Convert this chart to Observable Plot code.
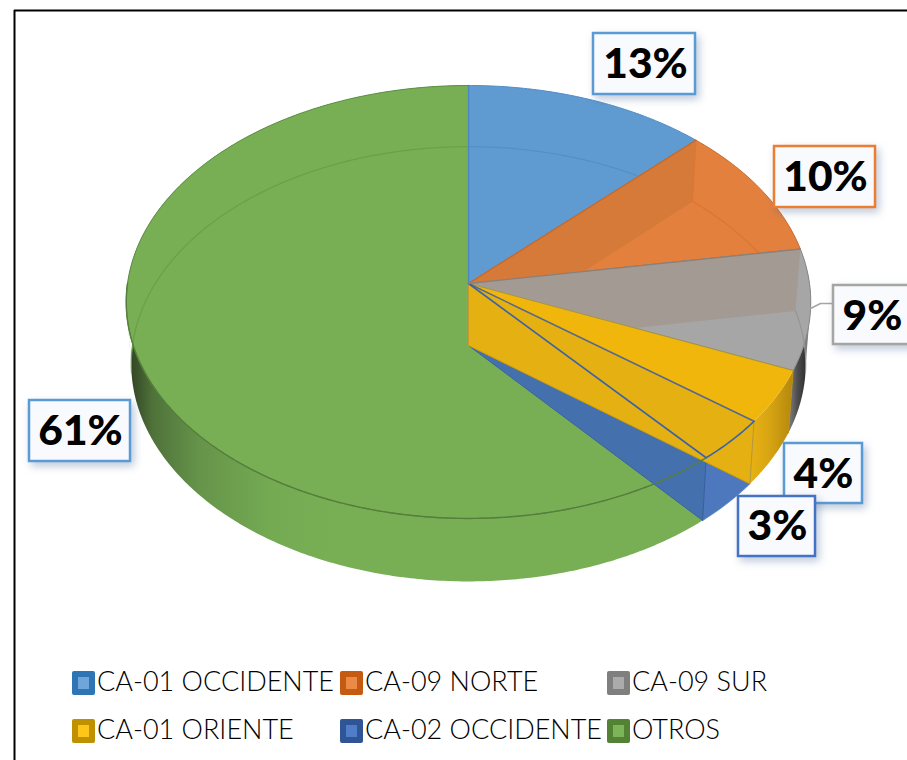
<!DOCTYPE html>
<html>
<head>
<meta charset="utf-8">
<script src="https://cdn.jsdelivr.net/npm/d3@7"></script>
<script src="https://cdn.jsdelivr.net/npm/@observablehq/plot@0.6"></script>
<style>
html,body{margin:0;padding:0;background:#fff;overflow:hidden}
svg{display:block}
</style>
</head>
<body>
<div id="chart"></div>
<script>
// ---- data ----
const categories = ["CA-01 OCCIDENTE","CA-09 NORTE","CA-09 SUR","CA-01 ORIENTE","CA-02 OCCIDENTE","OTROS"];
const shares = [12.5, 9.9, 9.0, 4.0, 3.3, 61.3];
const shownLabels = ["13%","10%","9%","4%","3%","61%"];

// ---- styles and layout ----
const swatchOuter = ["#2e75b6","#c55a11","#7f7f7f","#bf9000","#2f5597","#548235"];
const swatchInner = ["#6fa5d8","#ea8a46","#ababab","#ffc61a","#4f7dca","#7cb45a"];
const boxStroke = ["#5b9bd5","#ed7d31","#a5a5a5","#5b9bd5","#4472c4","#5b9bd5"];
const boxes = [[593,33,695,94],[774,146,875,207],[833,285,925,344],[784,443,862,503],[738,496,815,556],[29,400,130,461]];
const boxText = [[645,64],[825,177],[872,316],[823,474],[777,526],[80,431]];
const legendCols = [72,340,607], legendRows = [683,731];

// ---- perspective pie projection ----
const view = {cx:468, apexTop:283, apexBot:345, xTop:341, xBot:336, yrTop:214.9, yrBot:215.8, p:0.0853};
const rad = pct => pct * 3.6 * Math.PI / 180;
function pt(t, level){
  const d = 1 + view.p*Math.cos(t), k = Math.sin(t)/d, v = Math.cos(t)/d;
  return level === "top"
    ? [view.cx + view.xTop*k, view.apexTop - view.yrTop*v]
    : [view.cx + view.xBot*k, view.apexBot - view.yrBot*v];
}
function arc(a, b, level){
  const n = Math.max(2, Math.ceil(Math.abs(b-a)/0.01));
  return d3.range(n+1).map(i => pt(a + (b-a)*i/n, level));
}
const cum = d3.cumsum(shares);
const edge = [0, ...Array.from(cum, rad)];
edge[6] = 2*Math.PI;
const A = [view.cx, view.apexTop];
const B = [view.cx, view.apexBot];
function cross(p1,p2,p3,p4){
  const d=(p1[0]-p2[0])*(p3[1]-p4[1])-(p1[1]-p2[1])*(p3[0]-p4[0]);
  const u=((p1[0]-p3[0])*(p3[1]-p4[1])-(p1[1]-p3[1])*(p3[0]-p4[0]))/d;
  return [p1[0]+u*(p2[0]-p1[0]), p1[1]+u*(p2[1]-p1[1])];
}
// polygon or polyline as a Plot line mark
const poly = (pts, o={}) => Plot.line(o.open ? pts : [...pts, pts[0]], {
  x:d=>d[0], y:d=>d[1], curve:"linear",
  fill:o.fill||"none", fillOpacity:o.fo===undefined?1:o.fo,
  stroke:o.stroke||"none", strokeWidth:o.sw||1, strokeOpacity:o.so===undefined?1:o.so
});
const wallBand = (a,b,fill) => poly([...arc(a,b,"top"), ...arc(b,a,"bot")], {fill});
const slice = (a,b,fill,stroke) => poly([A, ...arc(a,b,"top")], {fill, stroke});
const wedgeWall = (t,tNext,fill) => {
  const rt = pt(t,"top"), rb = pt(t,"bot");
  return poly([A, rt, rb, cross(rb,B,A,pt(tNext,"top"))], {fill});
};
const innerFloorArc = (a,b,stroke,so) => {
  const lim = pt(b,"top"), ang = Math.atan2(lim[0]-A[0], A[1]-lim[1]);
  const pts = arc(a,b,"bot").filter(q => Math.atan2(q[0]-A[0], A[1]-q[1]) <= ang);
  return poly(pts,{open:true, stroke, so, sw:1.2});
};
const extreme = (level, pick) => {
  const pts = arc(0,2*Math.PI,level);
  return pts[d3[pick](pts, q=>q[0])];
};

const defs = () => {
  const d = d3.create("svg:defs");
  const grad = (id,x1,x2,stops) => {
    const g = d.append("linearGradient").attr("id",id).attr("gradientUnits","userSpaceOnUse")
      .attr("x1",x1).attr("x2",x2).attr("y1",0).attr("y2",0);
    stops.forEach(([o,c]) => g.append("stop").attr("offset",o).attr("stop-color",c));
  };
  grad("gGreen",128,330,[[0,"#2f4223"],[0.12,"#4f7239"],[0.35,"#66944a"],[0.7,"#74aa52"],[1,"#78af55"]]);
  grad("gGray",786,806,[[0,"#8c8c8c"],[0.55,"#4d4d4d"],[1,"#2e2e2e"]]);
  grad("gYellow",745,792,[[0,"#ecb414"],[0.5,"#d8a512"],[1,"#b5880e"]]);
  return d.node();
};

const [t1,t2,t3,t4,t5] = edge.slice(1,6);
const marks = [
  defs,
  // outer walls
  wallBand(t2,t3,"url(#gGray)"),
  wallBand(t5,2*Math.PI,"url(#gGreen)"),
  // silhouette joins between the two rims
  poly([pt(rad(72),"top"),extreme("top","minIndex"),extreme("bot","minIndex"),pt(rad(72),"bot")],{fill:"#3c5430"}),
  poly([pt(rad(25),"top"),extreme("top","maxIndex"),extreme("bot","maxIndex"),pt(rad(25),"bot")],{fill:"#7d7d7d"}),
  // top faces
  slice(t5,2*Math.PI,"#78af55","#5c8e42"),
  slice(0,t1,"#5f9bd0","#4f8cc6"),
  slice(t1,t2,"#e3803e","#c8692b"),
  slice(t2,t3,"#a6a6a6","#8a8a8a"),
  // lower rim seen through the top faces
  poly(arc(rad(73),2*Math.PI,"bot").filter(q=>q[1]<345||q[0]<468),{open:true,stroke:"#6a9f4b",sw:1.2}),
  innerFloorArc(0,t1,"#4f8cc6",0.8),
  // inner walls, seen through the top
  wedgeWall(t1,t2,"#d57a38"),
  wedgeWall(t2,t3,"#a39a94"),
  innerFloorArc(t1,t2,"#d97430",0.9),
  innerFloorArc(t2,t3,"#949494",0.9),
  poly([pt(t1,"top"),pt(t1,"bot")],{open:true,stroke:"#e0762f",sw:1}),
  // small slice at the front
  poly([B,pt(t5,"bot"),pt(t4,"bot")],{fill:"#4470ae"}),
  poly([...arc(t4,t5,"top"),...arc(t5,t4,"bot")],{fill:"#4e78bd"}),
  poly([pt(t5,"top"),pt(t5,"bot")],{open:true,stroke:"#3a5f9f"}),
  poly([B,pt(t5,"bot")],{open:true,stroke:"#3a62a4"}),
  poly(arc(t5,t4,"bot"),{open:true,stroke:"#5f86c4",sw:0.8}),
  // yellow slice
  poly([...arc(t3,t4,"top"),...arc(t4,t3,"bot")],{fill:"url(#gYellow)"}),
  poly([A,pt(t4,"top"),pt(t4,"bot"),B],{fill:"#e5b012"}),
  slice(t3,t4,"#f0b60c","none"),
  poly([pt(t3,"bot"),pt(t3,"top")],{open:true,stroke:"#b98d10"}),
  poly([pt(t4,"top"),pt(t4,"bot")],{open:true,stroke:"#b5953c"}),
  poly([A,B],{open:true,stroke:"#c49a2c"}),
  poly([B,pt(t4,"bot")],{open:true,stroke:"#c99a10",sw:1}),
  // top-face outlines over everything
  poly([A,pt(t3,"top")],{open:true,stroke:"#a8953c",sw:1}),
  poly([A,pt(t4,"top")],{open:true,stroke:"#55688c",sw:1.5}),
  poly([A,pt(t5,"top")],{open:true,stroke:"#3c62a6",sw:1.6}),
  poly(arc(t4,t5,"top"),{open:true,stroke:"#3c62a6",sw:1.6}),
  poly(arc(t5,rad(75),"top"),{open:true,stroke:"#557f3c",sw:1.4}),
  poly([A,pt(0,"top")],{open:true,stroke:"#4a88c2",sw:1.3}),
  poly([A,pt(t1,"top")],{open:true,stroke:"#c8692b",sw:1.3}),
  poly([A,pt(t2,"top")],{open:true,stroke:"#8a8078",sw:1.3}),
  // outer frame
  Plot.ruleX([14],{y1:10,y2:760,stroke:"#000",strokeWidth:2}),
  Plot.ruleY([10],{x1:14,x2:907,stroke:"#000",strokeWidth:2}),
  // leader for the 9% label
  poly([[810,308],[820,303],[834,303]],{open:true,stroke:"#a5a5a5",sw:1.5})
];

// data labels
shares.forEach((_, i) => {
  const [x1,y1,x2,y2] = boxes[i];
  marks.push(Plot.rect([0],{x1:()=>x1,x2:()=>x2,y1:()=>y1,y2:()=>y2,fill:"#f9fafd",stroke:boxStroke[i],strokeWidth:2.5,
    imageFilter:"drop-shadow(3px 4px 4px rgba(70,100,150,0.35))"}));
  marks.push(Plot.text([shownLabels[i]],{x:()=>boxText[i][0],y:()=>boxText[i][1],text:d=>d,
    fontFamily:"Lato",fontWeight:900,fontSize:42.5,fill:"#000",textAnchor:"middle",lineAnchor:"middle"}));
});
// legend
categories.forEach((c,i) => {
  const x = legendCols[i%3], y = legendRows[Math.floor(i/3)];
  marks.push(Plot.rect([0],{x1:()=>x,x2:()=>x+23,y1:()=>y-12,y2:()=>y+12,fill:swatchOuter[i],rx:2}));
  marks.push(Plot.rect([0],{x1:()=>x+6,x2:()=>x+17,y1:()=>y-6,y2:()=>y+6,fill:swatchInner[i]}));
  marks.push(Plot.text([c],{x:()=>x+24.5,y:()=>y-1,text:d=>d,fontFamily:"Lato",fontWeight:300,fontSize:27,fill:"#000",textAnchor:"start",lineAnchor:"middle"}));
});

const chart = Plot.plot({
  width:907, height:760, margin:0,
  x:{domain:[0,907],range:[0,907],axis:null},
  y:{domain:[0,760],range:[0,760],axis:null},
  style:{background:"#fff"},
  marks
});
document.getElementById("chart").append(chart);
</script>
</body>
</html>
